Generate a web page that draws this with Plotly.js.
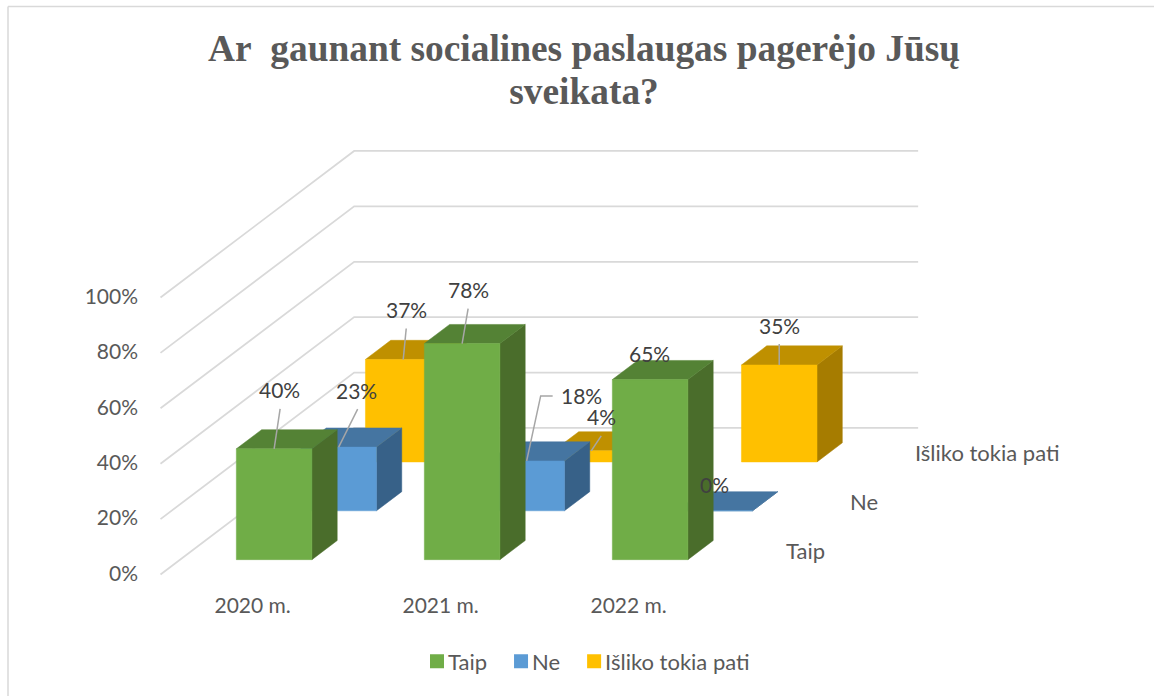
<!DOCTYPE html>
<html>
<head>
<meta charset="utf-8">
<script src="https://cdn.plot.ly/plotly-3.0.1.min.js"></script>
<style>html,body{margin:0;padding:0;background:#fff}</style>
</head>
<body>
<div id="chart" style="width:1154px;height:696px"></div>
<script>
// ---- data ----
const categories = ["2020 m.", "2021 m.", "2022 m."];
const seriesNames = ["Taip", "Ne", "Išliko tokia pati"];
const taip = [40, 78, 65];
const ne = [23, 18, 0];
const isliko = [37, 4, 35];
const yTicks = [0, 20, 40, 60, 80, 100];
const titleText = "Ar\u00a0 gaunant socialines paslaugas pagerėjo Jūsų<br>sveikata?";

// ---- styling ----
const frontColors = ["#70AD47", "#5B9BD5", "#FFC000"];
const topColors = ["#548235", "#4575A1", "#BF9000"];
const sideColors = ["#4A6D2B", "#376188", "#A67C00"];
const W = 1154, H = 696;
const M = {l: 145, r: 20, t: 100, b: 106};
const PX_X0 = 160.5, PX_Y0 = 574.5;
const CAT_PX = 188, PCT_PX = 2.77;
const DEPTH_DX = 64.55, DEPTH_DY = 48.85;
const DX = DEPTH_DX / CAT_PX, DY = DEPTH_DY / PCT_PX;
const BAR_WIDTH = 0.402, BAR_DEPTH = 0.392;

// oblique projection into axis units
const projX = (c, z) => c + z * DX;
const projY = (v, z) => v + z * DY;

const allValues = [taip, ne, isliko];
const traces = [];

// walls
yTicks.forEach(v => {
  traces.push({
    x: [projX(0, 0), projX(0, 3), projX(3, 3)],
    y: [projY(v, 0), projY(v, 3), projY(v, 3)],
    mode: "lines", line: {color: "#D9D9D9", width: 1.75},
    hoverinfo: "skip", showlegend: false
  });
});

function face(xs, ys, color) {
  traces.push({
    x: xs.concat(xs[0]), y: ys.concat(ys[0]),
    mode: "lines", fill: "toself", fillcolor: color,
    line: {color: color, width: 0.5},
    hoverinfo: "skip", showlegend: false
  });
}

// bars, painted back to front
[2, 1, 0].forEach(s => {
  allValues[s].forEach((v, c) => {
    const c0 = c + (1 - BAR_WIDTH) / 2, c1 = c0 + BAR_WIDTH;
    const z0 = s + (1 - BAR_DEPTH) / 2, z1 = z0 + BAR_DEPTH;
    face([projX(c1, z0), projX(c1, z1), projX(c1, z1), projX(c1, z0)],
         [projY(0, z0), projY(0, z1), projY(v, z1), projY(v, z0)], sideColors[s]);
    face([projX(c0, z0), projX(c1, z0), projX(c1, z1), projX(c0, z1)],
         [projY(v, z0), projY(v, z0), projY(v, z1), projY(v, z1)], topColors[s]);
    face([projX(c0, z0), projX(c1, z0), projX(c1, z0), projX(c0, z0)],
         [projY(0, z0), projY(0, z0), projY(v, z0), projY(v, z0)], frontColors[s]);
  });
});

// data-label offsets from the bar's top-front centre, in pixels: [s][c]
const labelOffsets = [
  [[5, -59], [6, -54], [-1, -26]],
  [[18, -57], [55, -65], [0, -26]],
  [[3, -50], [10, -34], [0, -40]]
];
// leader polylines as pixel offsets from the same anchor
const leaderOffsets = [
  [[[6, -40]], [[6, -35]], null],
  [[[19, -38]], [[14, -65], [26, -65]], null],
  [[[3, -31]], [[10, -15]], [[0, -21]]]
];

const annotations = [];
allValues.forEach((vals, s) => {
  vals.forEach((v, c) => {
    const zFront = s + (1 - BAR_DEPTH) / 2;
    const ax = projX(c + 0.5, zFront), ay = projY(v, zFront);
    const lead = leaderOffsets[s][c];
    if (lead) {
      const xs = [ax], ys = [ay];
      lead.forEach(p => { xs.push(ax + p[0] / CAT_PX); ys.push(ay - p[1] / PCT_PX); });
      traces.push({x: xs, y: ys, mode: "lines", line: {color: "#A6A6A6", width: 1.5},
                   hoverinfo: "skip", showlegend: false});
    }
    const off = labelOffsets[s][c];
    annotations.push({
      x: ax, y: ay, xref: "x", yref: "y", text: v + "%", showarrow: false,
      xanchor: "center", yanchor: "middle", xshift: off[0], yshift: -off[1],
      font: {family: "Lato, sans-serif", size: 21, color: "#404040"}
    });
  });
});

// depth-axis labels
seriesNames.forEach((name, s) => {
  annotations.push({
    x: projX(3, s + 0.5), y: projY(0, s + 0.5), xref: "x", yref: "y", text: name,
    showarrow: false, xanchor: "left", yanchor: "middle", xshift: 27, yshift: 0,
    font: {family: "Lato, sans-serif", size: 22, color: "#595959"}
  });
});

// legend entries
seriesNames.forEach((name, s) => {
  traces.push({
    x: [null], y: [null], name: name, mode: "markers",
    marker: {symbol: "square", size: 14, color: frontColors[s]},
    hoverinfo: "skip", showlegend: true
  });
});

const plotW = W - M.l - M.r, plotH = H - M.t - M.b;
const paperX = px => (px - M.l) / plotW;
const paperY = py => (H - M.b - py) / plotH;

const layout = {
  width: W, height: H, autosize: false,
  margin: M,
  paper_bgcolor: "#FFFFFF", plot_bgcolor: "rgba(0,0,0,0)",
  title: {
    text: titleText, xref: "paper", x: paperX(584), xanchor: "center",
    yref: "container", y: 1 - 61 / H, yanchor: "top",
    font: {family: "'Liberation Serif', serif", size: 37.4, color: "#595959", weight: "bold"}
  },
  xaxis: {
    range: [(M.l - PX_X0) / CAT_PX, (W - M.r - PX_X0) / CAT_PX],
    tickmode: "array", tickvals: categories.map((_, c) => c + 0.49), ticktext: categories,
    showgrid: false, zeroline: false, showline: false, ticks: "",
    ticklabelstandoff: 1,
    tickfont: {family: "Lato, sans-serif", size: 21, color: "#595959"}
  },
  yaxis: {
    range: [(PX_Y0 - (H - M.b)) / PCT_PX, (PX_Y0 - M.t) / PCT_PX],
    tickmode: "array", tickvals: yTicks.map(v => v + 0.4), ticktext: yTicks.map(v => v + "%"),
    showgrid: false, zeroline: false, showline: false, ticks: "",
    ticklabelstandoff: 6,
    tickfont: {family: "Lato, sans-serif", size: 21, color: "#595959"}
  },
  showlegend: true,
  legend: {
    orientation: "h", x: paperX(408), xanchor: "left", y: paperY(661.5), yanchor: "middle",
    font: {family: "Lato, sans-serif", size: 22, color: "#595959"},
    bgcolor: "rgba(0,0,0,0)", itemclick: false, itemdoubleclick: false
  },
  annotations: annotations,
  shapes: [
    {type: "line", xref: "paper", yref: "paper", x0: paperX(8), x1: paperX(8), y0: paperY(6.5), y1: paperY(696),
     line: {color: "#D9D9D9", width: 1.5}},
    {type: "line", xref: "paper", yref: "paper", x0: paperX(8), x1: paperX(1154), y0: paperY(6.5), y1: paperY(6.5),
     line: {color: "#D9D9D9", width: 1.5}}
  ]
};

Plotly.newPlot("chart", traces, layout, {displayModeBar: false, responsive: false}).then(() => {
  // tighter title leading and legend swatches closer to their labels
  const lines = document.querySelectorAll(".gtitle .line");
  if (lines.length > 1) lines[1].setAttribute("y", parseFloat(lines[1].getAttribute("y")) - 6);
  document.querySelectorAll(".legendsymbols").forEach(g => g.setAttribute("transform", "translate(9,0)"));
});
</script>
</body>
</html>
